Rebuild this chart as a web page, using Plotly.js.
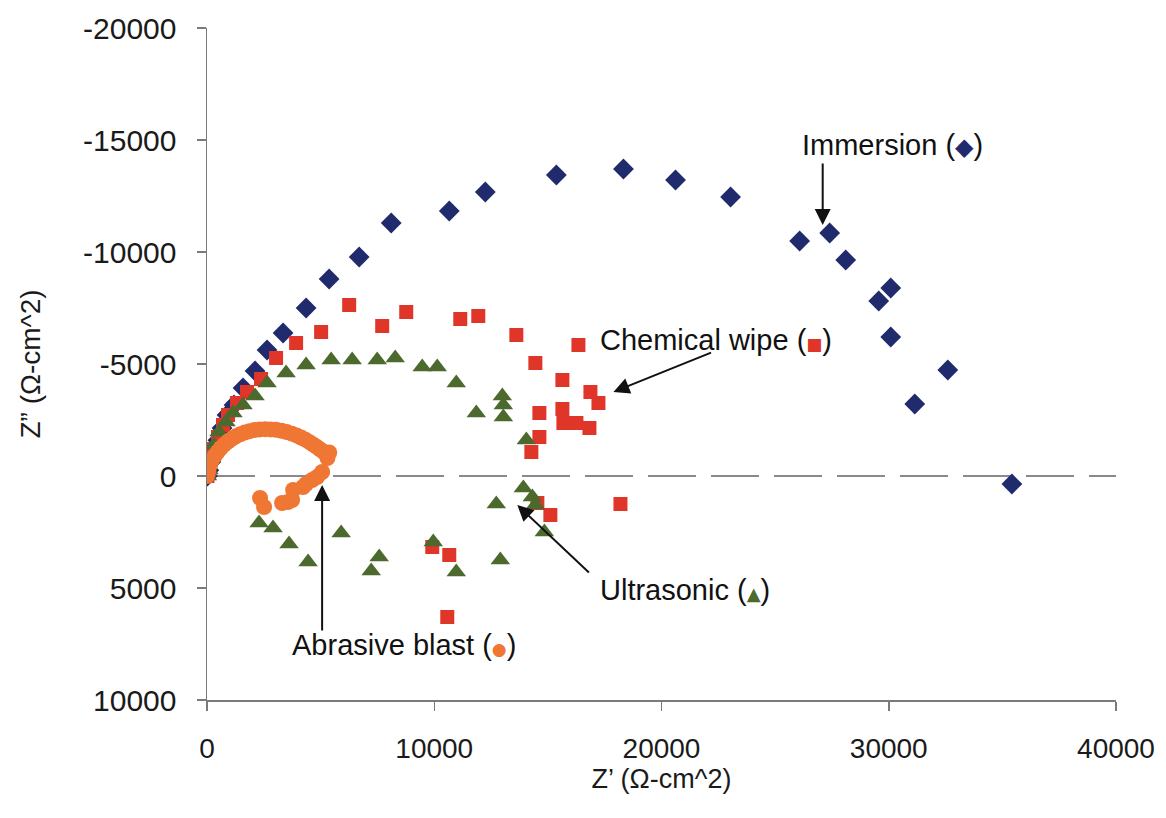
<!DOCTYPE html>
<html>
<head>
<meta charset="utf-8">
<script src="https://cdn.plot.ly/plotly-3.0.1.min.js"></script>
<style>html,body{margin:0;padding:0;background:#fff;}#chart{width:1166px;height:818px;}</style>
</head>
<body>
<div id="chart"></div>
<script>
// Immersion (diamonds)
const immersionX = [20, 80, 170, 300, 480, 660, 881, 1189, 1586, 2115, 2643, 3348, 4361, 5374, 6696, 8106, 10661, 12247, 15374, 18326, 20617, 23040, 26079, 27401, 28106, 30088, 29559, 30088, 32599, 31145, 35419];
const immersionY = [0, -260, -620, -1070, -1600, -2140, -2723, -3170, -3929, -4688, -5625, -6384, -7500, -8795, -9777, -11295, -11830, -12679, -13438, -13705, -13214, -12455, -10491, -10848, -9643, -8393, -7813, -6205, -4732, -3214, 357];

// Chemical wipe (squares)
const chemicalX = [20, 88, 176, 308, 485, 705, 925, 1322, 1762, 2379, 3040, 3921, 5022, 6256, 7709, 8767, 11145, 11938, 13612, 16344, 14449, 15639, 16872, 17225, 14626, 15639, 15683, 16256, 16828, 14626, 14273, 14537, 15110, 18194, 9912, 10661, 10573];
const chemicalY = [0, -268, -714, -1205, -1741, -2277, -2723, -3259, -3750, -4330, -5268, -5938, -6429, -7634, -6696, -7321, -7009, -7143, -6295, -5848, -5045, -4286, -3750, -3259, -2813, -2991, -2366, -2366, -2143, -1741, -1071, 1205, 1741, 1250, 3170, 3527, 6295];

// Ultrasonic (triangles)
const ultrasonicX = [20, 88, 176, 308, 529, 837, 1145, 1586, 2115, 2643, 3480, 4361, 5463, 6388, 7489, 8282, 9471, 10132, 10969, 11850, 12996, 13040, 13040, 14053, 13921, 14317, 14449, 14846, 12731, 2291, 2907, 3612, 4449, 5903, 7577, 7225, 9956, 10969, 12907];
const ultrasonicY = [0, -268, -804, -1384, -1964, -2411, -2813, -3170, -3571, -4152, -4598, -4955, -5179, -5179, -5179, -5268, -4866, -4866, -4152, -2813, -3571, -3170, -2634, -1607, 536, 938, 1295, 2500, 1250, 2098, 2321, 3036, 3839, 2545, 3616, 4241, 2946, 4286, 3750];

// Abrasive blast (circles)
const abrasiveX = [0, 60, 130, 220, 340, 470, 610, 760, 920, 1090, 1270, 1460, 1660, 1870, 2090, 2320, 2560, 2800, 3040, 3280, 3510, 3730, 3940, 4140, 4330, 4510, 4680, 4840, 4990, 5130, 5260, 5380, 5300, 5066, 4846, 4626, 4361, 4229, 3789, 3744, 3568, 3304, 2335, 2511];
const abrasiveY = [0, -250, -480, -700, -900, -1080, -1250, -1400, -1540, -1660, -1770, -1860, -1940, -2000, -2050, -2080, -2090, -2080, -2060, -2020, -1960, -1890, -1810, -1720, -1620, -1510, -1400, -1290, -1180, -1080, -1000, -1050, -800, -179, 45, 179, 357, 491, 625, 1071, 1161, 1205, 982, 1384];

const xTicks = [0, 10000, 20000, 30000, 40000];
const yTicks = [-20000, -15000, -10000, -5000, 0, 5000, 10000];

const FONT = 'Liberation Sans, Arial, sans-serif';
const C_IMM = '#1f2b6c', C_CHEM = '#e0362a', C_ULT = '#4d6a2e', C_ABR = '#f07634';

const traces = [
  {x: immersionX, y: immersionY, mode: 'markers', type: 'scatter', name: 'Immersion',
   marker: {symbol: 'diamond', size: 16, color: C_IMM}},
  {x: chemicalX, y: chemicalY, mode: 'markers', type: 'scatter', name: 'Chemical wipe',
   marker: {symbol: 'square', size: 14, color: C_CHEM}},
  {x: ultrasonicX, y: ultrasonicY, mode: 'markers', type: 'scatter', name: 'Ultrasonic',
   marker: {symbol: 'triangle-up', size: 17, color: C_ULT}},
  {x: abrasiveX, y: abrasiveY, mode: 'markers', type: 'scatter', name: 'Abrasive blast',
   marker: {symbol: 'circle', size: 16, color: C_ABR}}
];

function label(x, y, text) {
  return {x: x, y: y, xref: 'x', yref: 'y', text: text, showarrow: false,
          font: {family: FONT, size: 29, color: '#111'}, xanchor: 'center', yanchor: 'middle'};
}
function arrow(x, y, ax, ay) {
  return {x: x, y: y, ax: ax, ay: ay, xref: 'x', yref: 'y', axref: 'x', ayref: 'y', text: '',
          showarrow: true, arrowhead: 2, arrowsize: 1.6, arrowwidth: 2, arrowcolor: '#111', standoff: 0, startstandoff: 0};
}
function sym(ch, color, size) {
  return '<span style="color:' + color + ';font-size:' + size + 'px;font-family:DejaVu Sans">' + ch + '</span>';
}

const layout = {
  width: 1166, height: 818,
  margin: {l: 207, r: 50, t: 28, b: 118},
  paper_bgcolor: '#fff', plot_bgcolor: '#fff',
  showlegend: false,
  font: {family: FONT, color: '#1a1a1a'},
  xaxis: {
    range: [0, 40000], autorange: false, tickvals: xTicks, ticktext: xTicks.map(String),
    showgrid: false, zeroline: false, showline: true, linecolor: '#7a7a7a', linewidth: 1.5,
    ticks: 'outside', ticklen: 9, tickcolor: '#7a7a7a', tickwidth: 1.5,
    tickfont: {family: FONT, size: 28, color: '#1a1a1a'}, ticklabelstandoff: 14,
    title: {text: 'Z’ (Ω-cm^2)', font: {family: FONT, size: 27, color: '#1a1a1a'}, standoff: 2}
  },
  yaxis: {
    range: [10000, -20000], autorange: false, tickvals: yTicks, ticktext: yTicks.map(String),
    showgrid: false, zeroline: false, showline: true, linecolor: '#7a7a7a', linewidth: 1.5,
    ticks: 'outside', ticklen: 9, tickcolor: '#7a7a7a', tickwidth: 1.5,
    tickfont: {family: FONT, size: 30, color: '#1a1a1a'}, ticklabelstandoff: 14,
    title: {text: 'Z” (Ω-cm^2)', font: {family: FONT, size: 28, color: '#1a1a1a'}, standoff: 34}
  },
  shapes: [
    {type: 'line', xref: 'paper', yref: 'y', x0: 0, x1: 1, y0: 0, y1: 0,
     line: {color: '#8a8a8a', width: 2, dash: '48px,15px'}, layer: 'below'}
  ],
  annotations: [
    label(30176, -14777, 'Immersion (' + sym('◆', C_IMM, 24) + ')'),
    label(22379, -6071, 'Chemical wipe (' + sym('■', C_CHEM, 17) + ')'),
    label(21013, 5089, 'Ultrasonic (' + sym('▲', C_ULT, 18) + ')'),
    label(8678, 7545, 'Abrasive blast (' + sym('●', C_ABR, 17) + ')'),
    arrow(27093, -11205, 27093, -14018),
    arrow(17885, -3750, 22247, -5536),
    arrow(13656, 1295, 16872, 4375),
    arrow(5066, 402, 5066, 6964)
  ]
};

Plotly.newPlot('chart', traces, layout, {displayModeBar: false, staticPlot: true});
</script>
</body>
</html>
